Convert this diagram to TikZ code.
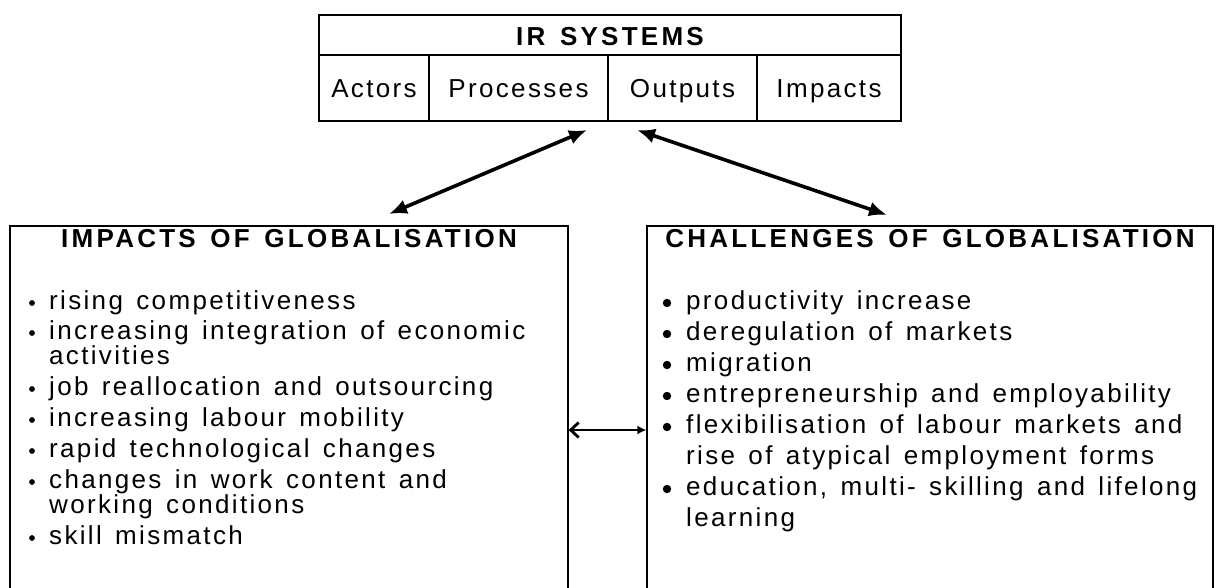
\documentclass[tikz,border=0pt]{standalone}
\usepackage{fontspec}
\setmainfont{Liberation Sans}[LetterSpace=9,WordSpace=1.4]
\usetikzlibrary{arrows.meta}

\tikzset{
  cell/.style={draw, line width=1.2pt, inner sep=0pt, font=\fontsize{26}{30}\selectfont},
  headline/.style={inner sep=0pt, font=\fontsize{26}{30}\selectfont\bfseries\addfontfeatures{LetterSpace=12.5}},
  item/.style={anchor=west, inner sep=0pt, text height=19pt, text depth=6pt, font=\fontsize{26}{30}\selectfont},
  link/.style={line width=3.6pt, {Latex[length=18pt,width=15pt]}-{Latex[length=18pt,width=15pt]}},
}

\begin{document}
\begin{tikzpicture}[x=1pt,y=-1pt]
  \useasboundingbox (0,0) rectangle (1220,588);

  % IR systems table
  \node[cell, minimum width=582pt, minimum height=40pt, text height=26pt, text depth=4pt] (ir) at (610,35)
    {\bfseries\addfontfeatures{LetterSpace=12.5}IR SYSTEMS};
  \node[cell, minimum width=110pt, minimum height=66pt, text height=25pt, text depth=6pt] (actors) at (374,88) {Actors};
  \node[cell, minimum width=179pt, minimum height=66pt, text height=25pt, text depth=6pt] (procs) at (518.5,88) {Processes};
  \node[cell, minimum width=149pt, minimum height=66pt, text height=25pt, text depth=6pt] (outs) at (682.5,88) {Outputs};
  \node[cell, minimum width=144pt, minimum height=66pt, text height=25pt, text depth=6pt] (imps) at (829,88) {Impacts};

  % the two open-bottomed boxes
  \node[cell, minimum width=558pt, minimum height=374pt] (imp) at (289,413) {};
  \node[cell, minimum width=566pt, minimum height=374pt] (chal) at (930,413) {};

  \node[headline] (imphead) at (289,239) {IMPACTS OF GLOBALISATION};
  \node[headline] (chalhead) at (930,239) {CHALLENGES OF GLOBALISATION};

  % left list: small dots
  \foreach \y/\b/\t [count=\i] in {303/1/rising competitiveness,
      333/1/increasing integration of economic, 358/0/activities,
      389/1/job reallocation and outsourcing, 420/1/increasing labour mobility,
      451/1/rapid technological changes, 482/1/changes in work content and,
      507/0/working conditions, 538/1/skill mismatch} {
    \node[item] (imp-\i) at (49,\y) {\t};
    \ifnum\b=1 \fill (32,\y) circle (2.9pt); \fi
  }

  % right list: big dots
  \foreach \y/\b/\t [count=\i] in {303/1/productivity increase,
      334/1/deregulation of markets, 365/1/migration,
      396/1/entrepreneurship and employability,
      427/1/flexibilisation of labour markets and,
      458/0/rise of atypical employment forms,
      489/1/{education, multi- skilling and lifelong}, 520/0/learning} {
    \node[item] (chal-\i) at (686,\y) {\t};
    \ifnum\b=1 \fill (667,\y) circle (4.2pt); \fi
  }

  % connectors
  \coordinate (ltop) at (587,130);
  \coordinate (lbot) at (389,214);
  \coordinate (rtop) at (637,130);
  \coordinate (rbot) at (887,215);
  \coordinate (mid) at (0,430);
  \draw[link] (ltop) -- (lbot);
  \draw[link] (rtop) -- (rbot);
  \draw[line width=2.8pt, {Straight Barb[length=8pt,width=15pt]}-{Latex[length=9pt,width=9pt]}]
    (imp.east |- mid) -- (chal.west |- mid);
\end{tikzpicture}
\end{document}
